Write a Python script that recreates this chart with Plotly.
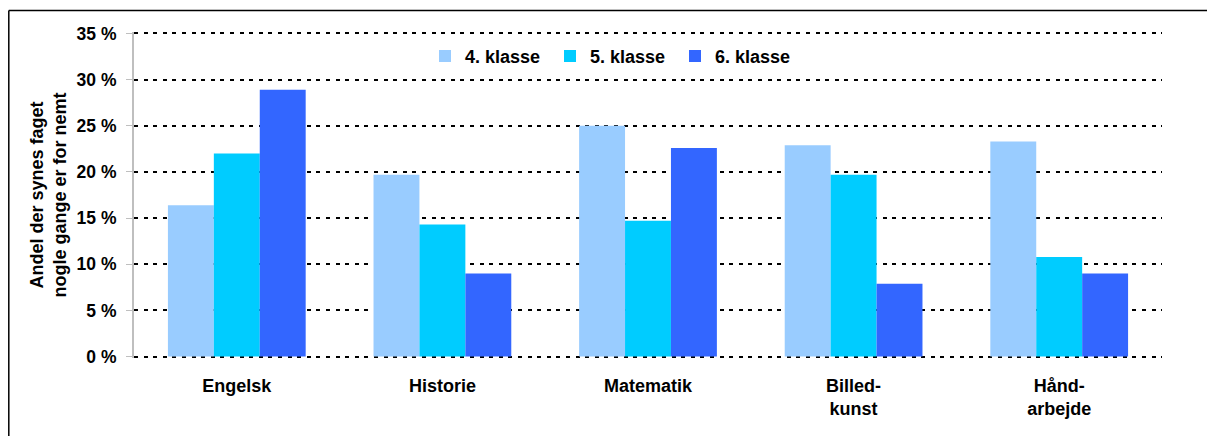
import plotly.graph_objects as go

categories = ["Engelsk", "Historie", "Matematik", "Billed-<br>kunst", "Hånd-<br>arbejde"]
series_names = ["4. klasse", "5. klasse", "6. klasse"]
klasse4 = [16.4, 19.7, 25.0, 22.9, 23.3]
klasse5 = [22.0, 14.3, 14.7, 19.7, 10.8]
klasse6 = [28.9, 9.0, 22.6, 7.9, 9.0]
colors = ["#99CCFF", "#00CCFF", "#3366FF"]
tick_vals = [0, 5, 10, 15, 20, 25, 30, 35]
tick_text = [f"{v} %" for v in tick_vals]
y_title = "Andel der synes faget<br>nogle gange er for nemt"

OFF = 8  # page body margin
W, H = 1215 - OFF, 436 - OFF
PAD = 0.15  # range padding so edge gridlines are drawn
scale = 324 / 35.0
L = 134 - OFF
T = 33 - OFF - PAD * scale
pw = 1028
ph = 324 + 2 * PAD * scale
R = W - L - pw
B = H - T - ph

def px_x(p):
    return (p - OFF - L) / pw

def px_y(p):
    return (T + ph - (p - OFF)) / ph

FONT = "Liberation Sans, Arial, sans-serif"

fig = go.Figure()
for name, vals, col in zip(series_names, [klasse4, klasse5, klasse6], colors):
    fig.add_trace(go.Bar(x=categories, y=vals, name=name, marker=dict(color=col, line=dict(width=0))))

border = dict(color="black", width=1.5)
fig.update_layout(
    width=W, height=H,
    margin=dict(l=L, r=R, t=T, b=B),
    paper_bgcolor="white", plot_bgcolor="white",
    barmode="group", bargap=0.33, bargroupgap=0,
    font=dict(family=FONT, size=18, color="black", weight="bold"),
    showlegend=True,
    legend=dict(orientation="h", x=px_x(425), xanchor="left", y=px_y(56), yanchor="middle",
                bgcolor="rgba(0,0,0,0)", font=dict(size=18, weight="bold"),
                entrywidth=80, entrywidthmode="pixels"),
    xaxis=dict(showgrid=False, showline=False, ticks="", tickfont=dict(size=18, weight="bold"),
               ticklabelstandoff=15),
    yaxis=dict(range=[-PAD, 35 + PAD], tickvals=tick_vals, ticktext=tick_text,
               showgrid=True, gridcolor="black", gridwidth=2, griddash="4px,5.6px",
               showline=True, linecolor="#BFBFBF", linewidth=2,
               ticks="outside", ticklen=6, tickcolor="#BFBFBF", tickwidth=1,
               tickfont=dict(size=17.5, weight="bold"), ticklabelstandoff=6,
               zeroline=False),
    shapes=[
        dict(type="line", xref="paper", yref="paper",
             x0=px_x(8.8), x1=px_x(1216), y0=px_y(10), y1=px_y(10), line=border, layer="below"),
        dict(type="line", xref="paper", yref="paper",
             x0=px_x(8.8), x1=px_x(8.8), y0=px_y(10), y1=px_y(437), line=border, layer="below"),
    ],
    annotations=[dict(text=y_title, xref="paper", yref="paper", x=px_x(47.5), y=px_y(195),
                      xanchor="center", yanchor="middle", textangle=-90, showarrow=False,
                      font=dict(size=18, weight="bold"))],
)

fig.write_html("out.html")
